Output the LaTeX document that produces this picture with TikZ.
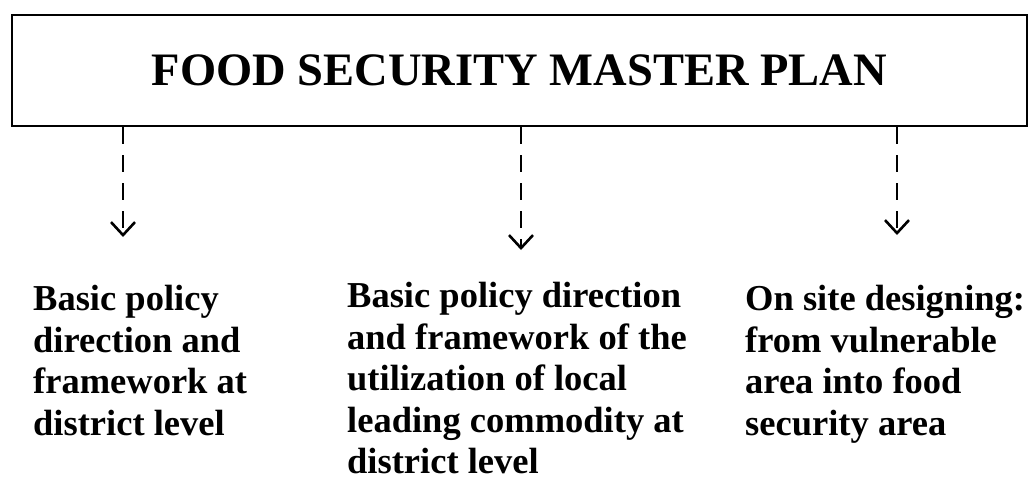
\documentclass[tikz,border=0pt]{standalone}
\usepackage{fontspec}
\setmainfont{Liberation Serif}
\usepackage{tikz}
\usetikzlibrary{arrows.meta}
\tikzset{
  planbox/.style={draw, line width=2.8pt, minimum width=1015pt, minimum height=111pt,
    inner sep=0pt, font=\bfseries\fontsize{46.5}{50}\selectfont},
  levelbox/.style={anchor=north west, align=left, inner sep=0pt,
    font=\bfseries\fontsize{36.5}{41.5}\selectfont},
  dasharrow/.style={line width=2.6pt, dash pattern=on 17pt off 11pt,
    -{Straight Barb[length=13pt,width=24pt,line width=2.6pt]}}
}

\begin{document}
\begin{tikzpicture}[x=1pt,y=-1pt]
  \useasboundingbox (0,0) rectangle (1032,481);
  % the plan on top
  \node[planbox] (plan) at (519.5,70.5) {FOOD SECURITY MASTER PLAN};
  % the three levels under it
  \node[levelbox] (district) at (33,285) {Basic policy\\direction and\\framework at\\district level};
  \node[levelbox] (commodity) at (347,282) {Basic policy direction\\and framework of the\\utilization of local\\leading commodity at\\district level};
  \node[levelbox] (onsite) at (745,285) {On site designing:\\from vulnerable\\area into food\\security area};
  \coordinate (d1) at (123,237);
  \coordinate (d2) at (521,250);
  \coordinate (d3) at (897,235);
  \draw[dasharrow] (plan.south -| d1) -- (d1);
  \draw[dasharrow] (plan.south -| d2) -- (d2);
  \draw[dasharrow] (plan.south -| d3) -- (d3);
\end{tikzpicture}
\end{document}
